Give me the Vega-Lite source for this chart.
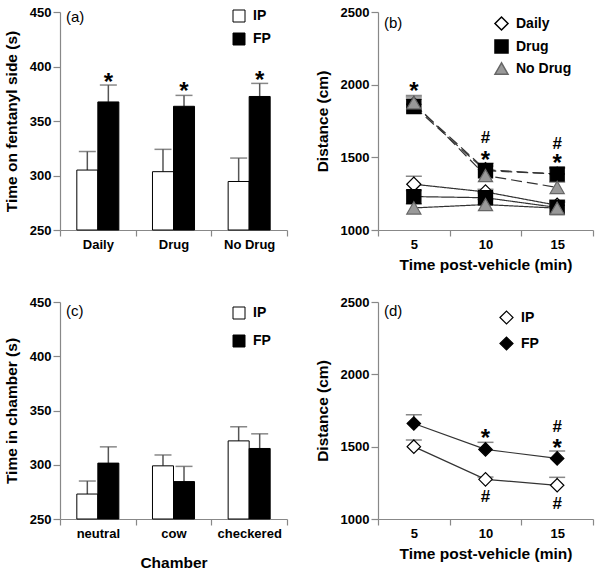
{
  "$schema": "https://vega.github.io/schema/vega-lite/v6.json",
  "padding": {"left": 4, "top": 6, "right": 4, "bottom": 4},
  "config": {
    "font": "Liberation Sans",
    "view": {"stroke": null},
    "axis": {"domainColor": "#888", "tickColor": "#888", "domainWidth": 1.2, "tickWidth": 1.2, "labelFontSize": 13, "labelFontWeight": "bold", "labelColor": "#000", "titleFontSize": 15.5, "titleFontWeight": "bold", "titleColor": "#000", "grid": false, "tickSize": 7, "labelPadding": 2, "titlePadding": 10},
    "axisX": {"tickSize": 6, "labelAngle": 0, "titlePadding": 6},
    "legend": {"orient": "none", "labelFontSize": 14, "labelFontWeight": "bold", "labelColor": "#000", "padding": 0, "labelOffset": 7, "symbolSize": 150},
    "title": {"anchor": "start", "frame": "group", "fontSize": 15, "fontWeight": "normal", "baseline": "top", "offset": -19, "dx": 6}
  },
  "datasets": {
    "a": [
      {"cat": "Daily", "side": "IP", "mean": 305, "hi": 322},
      {"cat": "Daily", "side": "FP", "mean": 367.5, "hi": 383, "sig": "*", "sy": 389},
      {"cat": "Drug", "side": "IP", "mean": 303.5, "hi": 324},
      {"cat": "Drug", "side": "FP", "mean": 363.5, "hi": 373.5, "sig": "*", "sy": 381},
      {"cat": "No Drug", "side": "IP", "mean": 294.5, "hi": 316},
      {"cat": "No Drug", "side": "FP", "mean": 372.5, "hi": 384.5, "sig": "*", "sy": 391.5}
    ],
    "c": [
      {"cat": "neutral", "side": "IP", "mean": 273, "hi": 285},
      {"cat": "neutral", "side": "FP", "mean": 301.5, "hi": 316.5},
      {"cat": "cow", "side": "IP", "mean": 299, "hi": 309},
      {"cat": "cow", "side": "FP", "mean": 284.5, "hi": 298.5},
      {"cat": "checkered", "side": "IP", "mean": 322, "hi": 335},
      {"cat": "checkered", "side": "FP", "mean": 315, "hi": 328.5}
    ],
    "b": [
      {"t": "5", "group": "Daily", "side": "IP", "mean": 1315, "hi": 1369},
      {"t": "10", "group": "Daily", "side": "IP", "mean": 1262, "hi": 1280},
      {"t": "15", "group": "Daily", "side": "IP", "mean": 1170, "hi": 1205},
      {"t": "5", "group": "Daily", "side": "FP", "mean": 1865, "hi": 1915},
      {"t": "10", "group": "Daily", "side": "FP", "mean": 1415, "hi": 1455},
      {"t": "15", "group": "Daily", "side": "FP", "mean": 1385, "hi": 1425},
      {"t": "5", "group": "Drug", "side": "IP", "mean": 1230, "hi": 1272},
      {"t": "10", "group": "Drug", "side": "IP", "mean": 1222, "hi": 1255},
      {"t": "15", "group": "Drug", "side": "IP", "mean": 1155, "hi": 1195},
      {"t": "5", "group": "Drug", "side": "FP", "mean": 1850, "hi": 1900},
      {"t": "10", "group": "Drug", "side": "FP", "mean": 1408, "hi": 1460},
      {"t": "15", "group": "Drug", "side": "FP", "mean": 1385, "hi": 1431},
      {"t": "5", "group": "No Drug", "side": "IP", "mean": 1152, "hi": 1180},
      {"t": "10", "group": "No Drug", "side": "IP", "mean": 1175, "hi": 1210},
      {"t": "15", "group": "No Drug", "side": "IP", "mean": 1150, "hi": 1190},
      {"t": "5", "group": "No Drug", "side": "FP", "mean": 1875, "hi": 1925},
      {"t": "10", "group": "No Drug", "side": "FP", "mean": 1375, "hi": 1440},
      {"t": "15", "group": "No Drug", "side": "FP", "mean": 1293, "hi": 1330}
    ],
    "bsig": [
      {"t": "5", "y": 1987, "label": "*"},
      {"t": "10", "y": 1511, "label": "*"},
      {"t": "10", "y": 1631, "label": "#"},
      {"t": "15", "y": 1489, "label": "*"},
      {"t": "15", "y": 1592, "label": "#"}
    ],
    "d": [
      {"t": "5", "side": "IP", "mean": 1500, "hi": 1546},
      {"t": "10", "side": "IP", "mean": 1274, "hi": 1290},
      {"t": "15", "side": "IP", "mean": 1233, "hi": 1288},
      {"t": "5", "side": "FP", "mean": 1660, "hi": 1721},
      {"t": "10", "side": "FP", "mean": 1481, "hi": 1530},
      {"t": "15", "side": "FP", "mean": 1419, "hi": 1470}
    ],
    "dsig": [
      {"t": "10", "y": 1588, "label": "*"},
      {"t": "15", "y": 1519, "label": "*"},
      {"t": "15", "y": 1633, "label": "#"},
      {"t": "10", "y": 1151, "label": "#"},
      {"t": "15", "y": 1105, "label": "#"}
    ]
  },
  "columns": 2,
  "align": "each",
  "spacing": {"row": 23, "column": 27},
  "resolve": {"scale": {"fill": "independent", "shape": "independent", "stroke": "independent", "strokeDash": "independent", "xOffset": "independent", "x": "independent", "y": "independent"}, "legend": {"fill": "independent", "shape": "independent", "stroke": "independent"}},
  "concat": [
    {
      "width": 227, "height": 218,
      "title": {"text": "(a)"},
      "data": {"name": "a"},
      "encoding": {
        "x": {"field": "cat", "type": "nominal", "sort": ["Daily", "Drug", "No Drug"], "scale": {"paddingInner": 0, "paddingOuter": 0}, "axis": {"title": null, "tickBand": "extent"}},
        "xOffset": {"field": "side", "type": "nominal", "sort": ["IP", "FP"], "scale": {"paddingInner": 0, "paddingOuter": 0.8}}
      },
      "layer": [
        {"mark": {"type": "rule", "color": "#555", "strokeWidth": 1.5},
         "encoding": {"y": {"field": "mean", "type": "quantitative", "scale": {"domain": [250, 450], "zero": false, "nice": false}, "axis": {"values": [250, 300, 350, 400, 450], "format": "d", "title": "Time on fentanyl side (s)"}}, "y2": {"field": "hi"}}},
        {"mark": {"type": "tick", "color": "#555", "thickness": 1.5, "size": 17, "orient": "horizontal"},
         "encoding": {"y": {"field": "hi", "type": "quantitative"}}},
        {"mark": {"type": "bar", "stroke": "#000", "strokeWidth": 1},
         "encoding": {
           "y": {"field": "mean", "type": "quantitative"},
           "y2": {"datum": 250},
           "fill": {"field": "side", "type": "nominal", "scale": {"domain": ["IP", "FP"], "range": ["white", "black"]}, "legend": {"title": null, "symbolType": "square", "symbolStrokeColor": "#000", "symbolStrokeWidth": 1, "symbolSize": 144, "legendX": 172, "legendY": -3, "rowPadding": 7}}
         }},
        {"transform": [{"filter": "isValid(datum.sig)"}],
         "mark": {"type": "text", "fontSize": 24, "fontWeight": "bold", "baseline": "middle", "dy": 5},
         "encoding": {"y": {"field": "sy", "type": "quantitative"}, "text": {"field": "sig"}}}
      ]
    },
    {
      "width": 215, "height": 218,
      "title": {"text": "(b)", "offset": -25},
      "data": {"name": "b"},
      "encoding": {
        "x": {"field": "t", "type": "ordinal", "sort": ["5", "10", "15"], "scale": {"paddingInner": 0, "paddingOuter": 0}, "axis": {"title": "Time post-vehicle (min)", "tickBand": "extent"}}
      },
      "layer": [
        {"mark": {"type": "line", "color": "#333", "strokeWidth": 1.2},
         "encoding": {
           "y": {"field": "mean", "type": "quantitative", "scale": {"domain": [1000, 2500], "nice": false}, "axis": {"values": [1000, 1500, 2000, 2500], "format": "d", "title": "Distance (cm)"}},
           "detail": {"field": "group"},
           "strokeDash": {"field": "side", "type": "nominal", "scale": {"domain": ["IP", "FP"], "range": [[1, 0], [11, 5]]}, "legend": null}
         }},
        {"mark": {"type": "rule", "color": "#555", "strokeWidth": 1.3},
         "encoding": {"y": {"field": "mean", "type": "quantitative"}, "y2": {"field": "hi"}, "detail": {"field": "group"}}},
        {"mark": {"type": "tick", "color": "#555", "thickness": 1.5, "size": 16, "orient": "horizontal"},
         "encoding": {"y": {"field": "hi", "type": "quantitative"}}},
        {"mark": {"type": "point", "filled": true, "opacity": 1, "size": 200, "strokeWidth": 1.2},
         "encoding": {
           "y": {"field": "mean", "type": "quantitative"},
           "shape": {"field": "group", "type": "nominal", "scale": {"domain": ["Daily", "Drug", "No Drug"], "range": ["diamond", "square", "triangle-up"]}, "legend": {"title": null, "legendX": 116, "legendY": 4, "rowPadding": 2, "symbolSize": 170}},
           "fill": {"field": "group", "type": "nominal", "scale": {"domain": ["Daily", "Drug", "No Drug"], "range": ["white", "black", "#999"]}, "legend": {"title": null, "legendX": 116, "legendY": 4, "rowPadding": 2, "symbolSize": 170}},
           "stroke": {"field": "group", "type": "nominal", "scale": {"domain": ["Daily", "Drug", "No Drug"], "range": ["#000", "#000", "#666"]}, "legend": {"title": null, "legendX": 116, "legendY": 4, "rowPadding": 2, "symbolSize": 170}}
         }},
        {"data": {"name": "bsig"}, "transform": [{"filter": "datum.label == '*'"}],
         "mark": {"type": "text", "fontSize": 24, "fontWeight": "bold", "baseline": "middle", "dy": 5},
         "encoding": {"y": {"field": "y", "type": "quantitative"}, "text": {"field": "label"}}},
        {"data": {"name": "bsig"}, "transform": [{"filter": "datum.label == '#'"}],
         "mark": {"type": "text", "fontSize": 17, "fontWeight": "bold", "baseline": "middle"},
         "encoding": {"y": {"field": "y", "type": "quantitative"}, "text": {"field": "label"}}}
      ]
    },
    {
      "width": 227, "height": 217,
      "title": {"text": "(c)", "offset": -23},
      "data": {"name": "c"},
      "encoding": {
        "x": {"field": "cat", "type": "nominal", "sort": ["neutral", "cow", "checkered"], "scale": {"paddingInner": 0, "paddingOuter": 0}, "axis": {"title": "Chamber", "tickBand": "extent", "titlePadding": 15}},
        "xOffset": {"field": "side", "type": "nominal", "sort": ["IP", "FP"], "scale": {"paddingInner": 0, "paddingOuter": 0.8}}
      },
      "layer": [
        {"mark": {"type": "rule", "color": "#555", "strokeWidth": 1.5},
         "encoding": {"y": {"field": "mean", "type": "quantitative", "scale": {"domain": [250, 450], "zero": false, "nice": false}, "axis": {"values": [250, 300, 350, 400, 450], "format": "d", "title": "Time in chamber (s)"}}, "y2": {"field": "hi"}}},
        {"mark": {"type": "tick", "color": "#555", "thickness": 1.5, "size": 17, "orient": "horizontal"},
         "encoding": {"y": {"field": "hi", "type": "quantitative"}}},
        {"mark": {"type": "bar", "stroke": "#000", "strokeWidth": 1},
         "encoding": {
           "y": {"field": "mean", "type": "quantitative"},
           "y2": {"datum": 250},
           "fill": {"field": "side", "type": "nominal", "scale": {"domain": ["IP", "FP"], "range": ["white", "black"]}, "legend": {"title": null, "symbolType": "square", "symbolStrokeColor": "#000", "symbolStrokeWidth": 1, "symbolSize": 144, "legendX": 172, "legendY": 4, "rowPadding": 12}}
         }}
      ]
    },
    {
      "width": 215, "height": 217,
      "title": {"text": "(d)", "offset": -23},
      "data": {"name": "d"},
      "encoding": {
        "x": {"field": "t", "type": "ordinal", "sort": ["5", "10", "15"], "scale": {"paddingInner": 0, "paddingOuter": 0}, "axis": {"title": "Time post-vehicle (min)", "tickBand": "extent"}}
      },
      "layer": [
        {"mark": {"type": "line", "color": "#333", "strokeWidth": 1.2},
         "encoding": {
           "y": {"field": "mean", "type": "quantitative", "scale": {"domain": [1000, 2500], "nice": false}, "axis": {"values": [1000, 1500, 2000, 2500], "format": "d", "title": "Distance (cm)"}},
           "detail": {"field": "side"}
         }},
        {"mark": {"type": "rule", "color": "#555", "strokeWidth": 1.3},
         "encoding": {"y": {"field": "mean", "type": "quantitative"}, "y2": {"field": "hi"}, "detail": {"field": "side"}}},
        {"mark": {"type": "tick", "color": "#555", "thickness": 1.5, "size": 16, "orient": "horizontal"},
         "encoding": {"y": {"field": "hi", "type": "quantitative"}}},
        {"mark": {"type": "point", "filled": true, "opacity": 1, "size": 180, "shape": "diamond", "stroke": "#000", "strokeWidth": 1.2},
         "encoding": {
           "y": {"field": "mean", "type": "quantitative"},
           "fill": {"field": "side", "type": "nominal", "scale": {"domain": ["IP", "FP"], "range": ["white", "black"]}, "legend": {"title": null, "symbolType": "diamond", "symbolStrokeColor": "#000", "symbolStrokeWidth": 1.2, "symbolSize": 170, "legendX": 121, "legendY": 8, "rowPadding": 7}}
         }},
        {"data": {"name": "dsig"}, "transform": [{"filter": "datum.label == '*'"}],
         "mark": {"type": "text", "fontSize": 24, "fontWeight": "bold", "baseline": "middle", "dy": 5},
         "encoding": {"y": {"field": "y", "type": "quantitative"}, "text": {"field": "label"}}},
        {"data": {"name": "dsig"}, "transform": [{"filter": "datum.label == '#'"}],
         "mark": {"type": "text", "fontSize": 17, "fontWeight": "bold", "baseline": "middle"},
         "encoding": {"y": {"field": "y", "type": "quantitative"}, "text": {"field": "label"}}}
      ]
    }
  ]
}
